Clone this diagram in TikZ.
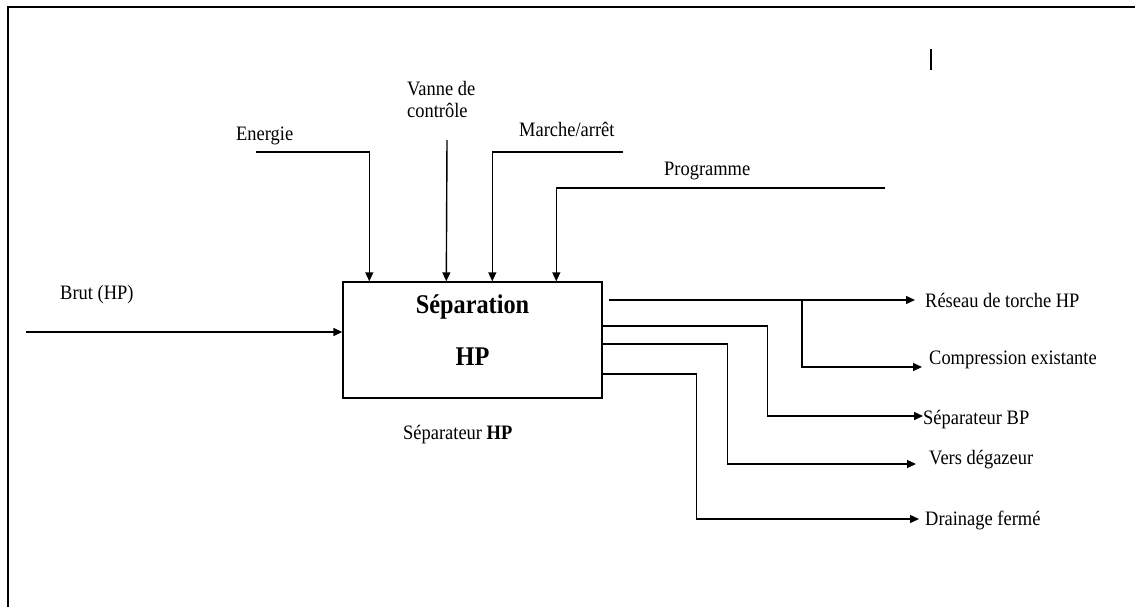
\documentclass[tikz,border=0pt]{standalone}
\usepackage{fontspec}
\setmainfont{Liberation Serif}[FakeStretch=0.9]
\usetikzlibrary{arrows.meta}
\begin{document}
\begin{tikzpicture}[x=1pt,y=-1pt,
  flow/.style={line width=1.4pt,-{Triangle[length=9pt,width=8pt]}},
  lbl/.style={anchor=west,inner sep=0pt,font=\fontsize{20.5}{22}\selectfont},
  title/.style={inner sep=0pt,font=\fontsize{27}{30}\selectfont\bfseries},
  block/.style={draw,line width=1.4pt,minimum width=259pt,minimum height=116pt,inner sep=0pt}]
\useasboundingbox (0,0) rectangle (1135,607);

% page frame and stray mark
\draw[line width=2.4pt] (8,607) -- (8,7) -- (1135,7);
\draw[line width=1.4pt] (931,49) -- (931,70);

% central block
\node[block] (sep) at (472.5,340) {};
\node[title] (t1) at (472.5,307) {Séparation};
\node[title] (t2) at (472.5,357) {HP};
\node[lbl] (sub) at (403,435) {Séparateur \textbf{HP}};

% input labels
\node[lbl] (brut) at (60,295) {Brut (HP)};
\node[lbl] (ener) at (236,136) {Energie};
\node[lbl,align=left] (vanne) at (407,99) {Vanne de\\contrôle};
\node[lbl] (marche) at (519,129) {Marche/arrêt};
\node[lbl] (prog) at (664,171) {Programme};

% output labels
\node[lbl] (o1) at (925,300) {Réseau de torche HP};
\node[lbl] (o2) at (929,360) {Compression existante};
\node[lbl] (o3) at (923,420) {Séparateur BP};
\node[lbl] (o4) at (929,460) {Vers dégazeur};
\node[lbl] (o5) at (925,520) {Drainage fermé};

% free ends of the control lines
\coordinate (brS) at (26,332);
\coordinate (enS) at (256,152);
\coordinate (vaS) at (447,140);
\coordinate (maS) at (623,152);
\coordinate (prS) at (885,188);

% arrow tips of the outputs
\coordinate (e1) at (915,300);
\coordinate (br1) at (802,300);
\coordinate (e2) at (922,367);
\coordinate (e3) at (923,416);
\coordinate (e4) at (916,464);
\coordinate (e5) at (919,519);

% inputs
\draw[flow] (brS) -- (sep.west |- brS);
\draw[flow] (enS) -| ([xshift=27pt]sep.north west);
\draw[flow] (vaS) -- ([xshift=104pt]sep.north west);
\draw[flow] (maS) -| ([xshift=150pt]sep.north west);
\draw[flow] (prS) -| ([xshift=214pt]sep.north west);

% outputs
\draw[flow] ([xshift=6pt]sep.east |- e1) -- (e1);
\draw[flow] (br1) |- (e2);
\draw[flow] ([yshift=14pt]sep.east) -- ++(165,0) |- (e3);
\draw[flow] ([yshift=-4pt]sep.east) -- ++(125,0) |- (e4);
\draw[flow] ([yshift=-34pt]sep.east) -- ++(94,0) |- (e5);
\end{tikzpicture}
\end{document}
